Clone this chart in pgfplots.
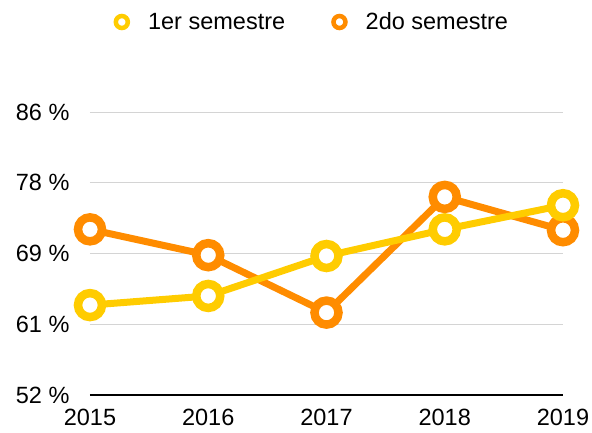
\documentclass[border=0pt]{standalone}
\usepackage{fontspec}
\setmainfont{Liberation Sans}
\usepackage{pgfplots}
\pgfplotsset{compat=1.18}
\definecolor{sem1}{HTML}{FFCC00}
\definecolor{sem2}{HTML}{FF8C00}
\definecolor{gridgray}{HTML}{D4D4D4}

\begin{document}
\begin{tikzpicture}[font=\fontsize{23.5}{28}\selectfont]
  \begin{axis}[
      scale only axis,
      width=473pt, height=283pt,
      at={(0,0)}, anchor=south west,
      xmin=2015, xmax=2019,
      ymin=52, ymax=86,
      xtick={2015,2016,2017,2018,2019},
      xticklabels={2015,2016,2017,2018,2019},
      ytick={52,60.5,69,77.5,86},
      yticklabels={52 \%,61 \%,69 \%,78 \%,86 \%},
      ymajorgrids,
      major grid style={gridgray, line width=1pt},
      axis line style={draw=none},
      tick style={draw=none},
      yticklabel style={xshift=-17pt},
      xticklabel style={anchor=north, yshift=-11pt},
      clip=false,
      legend columns=-1,
      legend style={draw=none, fill=none, at={(axis description cs:0.469,1.318)},
        anchor=center,
        /tikz/every odd column/.append style={column sep=16pt},
        /tikz/every even column/.append style={column sep=44pt}},
      legend image code/.code={\draw[line width=4.5pt, fill=white] (0pt,0pt) circle (6pt);},
      reverse legend,
    ]
    \draw[black, line width=2pt] (axis cs:2015,52) -- (axis cs:2019,52);
    \addplot[sem2, line width=7pt, mark=*, mark size=12pt,
      mark options={line width=8.5pt, draw=sem2, fill=white}]
      coordinates {(2015,71.9) (2016,68.8) (2017,61.9) (2018,75.8) (2019,71.8)};
    \addlegendentry{2do semestre}
    \addplot[sem1, line width=7pt, mark=*, mark size=12pt,
      mark options={line width=8.5pt, draw=sem1, fill=white}]
      coordinates {(2015,62.8) (2016,63.9) (2017,68.7) (2018,71.9) (2019,74.8)};
    \addlegendentry{1er semestre}
  \end{axis}
  \pgfresetboundingbox
  \path (-90pt,-37pt) rectangle (502pt,395pt);
\end{tikzpicture}
\end{document}
